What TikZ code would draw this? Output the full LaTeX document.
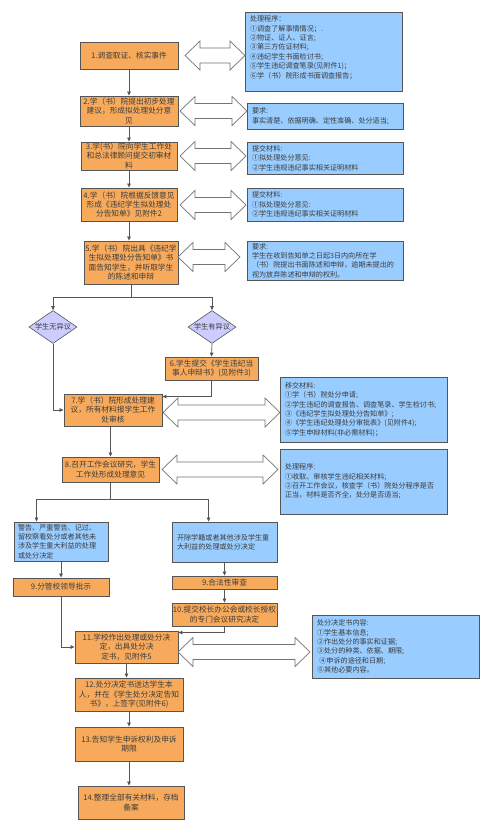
\documentclass[tikz,border=0pt]{standalone}
\usepackage{fontspec}
\setmainfont{Noto Sans CJK SC}
\usetikzlibrary{shapes.geometric,arrows.meta,calc}
\XeTeXlinebreaklocale "zh"
\XeTeXlinebreakskip=0pt plus 1pt
\definecolor{orangeC}{HTML}{F7AA5C}
\definecolor{blueC}{HTML}{99CCFF}
\definecolor{diaC}{HTML}{CCCCFF}
\definecolor{edgeC}{HTML}{555555}
\definecolor{txtC}{HTML}{3C3C3C}
\tikzset{
 obox/.style={draw=edgeC, fill=orangeC, line width=0.9pt, text=txtC, align=center, inner sep=1pt, font=\fontsize{7.7}{9.4}\selectfont},
 bbox/.style={draw=edgeC, fill=blueC, line width=0.9pt, text=txtC, align=left, inner xsep=5pt, inner ysep=1pt, font=\fontsize{7.1}{9.4}\selectfont},
 dia/.style={diamond, draw=edgeC, fill=diaC, line width=0.6pt, aspect=1.45, inner sep=0pt, minimum width=48pt, minimum height=33pt, text=txtC, font=\fontsize{7.2}{9}\selectfont},
 darrowst/.style={draw=black!55, fill=white, line width=0.7pt, line join=miter},
 conn/.style={draw=edgeC, line width=0.7pt, -{Triangle[length=4pt,width=3.5pt]}},
 osz/.style 2 args={minimum width=#1pt, minimum height=#2pt},
 bsz/.style 2 args={text width=#1pt, minimum height=#2pt},
}
% double arrow: #1 left tip x, #2 right tip x, #3 centre y
\newcommand\dblarr[3]{%
 \draw[darrowst] (#1,#3) -- ({#1+15},{#3-14.5}) -- ({#1+15},{#3-7.5}) -- ({#2-15},{#3-7.5}) -- ({#2-15},{#3-14.5}) -- (#2,#3)
   -- ({#2-15},{#3+14.5}) -- ({#2-15},{#3+7.5}) -- ({#1+15},{#3+7.5}) -- ({#1+15},{#3+14.5}) -- cycle;}
\begin{document}
\begin{tikzpicture}[x=1pt,y=-1pt]
\useasboundingbox[fill=white] (0,0) rectangle (492,833);
% main orange boxes
\node[obox,osz={98}{27}] (b1) at (129,55.5) {1.调查取证、核实事件};
\node[obox,osz={98}{30}] (b2) at (129,111) {2.学（书）院提出初步处理\\建议，形成拟处理处分意\\见};
\node[obox,osz={96}{28}] (b3) at (129,156) {3.学(书）院向学生工作处\\和总法律顾问提交初审材\\料};
\node[obox,osz={96}{33}] (b4) at (129,204.5) {4.学（书）院根据反馈意见\\形成《违纪学生拟处理处\\分告知单》见附件2};
\node[obox,osz={94}{43}] (b5) at (131,262.5) {5.学（书）院出具《违纪学\\生拟处理处分告知单》书\\面告知学生，并听取学生\\的陈述和申辩};
\node[dia] (d1) at (53,327) {学生无异议};
\node[dia] (d2) at (212,327) {学生有异议};
\node[obox,osz={93}{23}] (b6) at (211.5,368.5) {6.学生提交《学生违纪当\\事人申辩书》(见附件3)};
\node[obox,osz={98}{32}] (b7) at (113,410) {7.学（书）院形成处理建\\议，所有材料报学生工作\\处审核};
\node[obox,osz={97}{25}] (b8) at (110.5,469.5) {8.召开工作会议研究，学生\\工作处形成处理意见};
\node[bbox,bsz={86}{39},inner xsep=4pt] (bA) at (61,541.5) {警告、严重警告、记过、\\留校察看处分或者其他未\\涉及学生重大利益的处理\\或处分决定};
\node[bbox,bsz={95}{40}] (bB) at (224.5,542) {开除学籍或者其他涉及学生重\\大利益的处理或处分决定};
\node[obox,osz={96}{18}] (b9L) at (61,587) {9.分管校领导批示};
\node[obox,osz={105}{13},inner ysep=0pt] (b9R) at (224.5,582.5) {9.合法性审查};
\node[obox,osz={105}{23},inner xsep=0.5pt] (b10) at (224.5,614.5) {10.提交校长办公会或校长授权\\的专门会议研究决定};
\node[obox,osz={103}{32}] (b11) at (126.5,647) {11.学校作出处理或处分决\\定，出具处分决\\定书，见附件5};
\node[obox,osz={108}{33}] (b12) at (129,694.5) {12.处分决定书送达学生本\\人，并在《学生处分决定告知\\书》，上签字(见附件6)};
\node[obox,osz={108}{34}] (b13) at (129,744) {13.告知学生申诉权利及申诉\\期限};
\node[obox,osz={106}{33}] (b14) at (131,802.5) {14.整理全部有关材料，存档\\备案};
% blue info boxes
\node[bbox,bsz={147}{79}] (c1) at (323.5,51.5) {处理程序：\\①调查了解事情情况；.\\②物证、证人、证言;\\③第三方佐证材料;\\④违纪学生书面检讨书;\\⑤学生违纪调查笔录(见附件1)；\\⑥学（书）院形成书面调查报告；\\\mbox{}};
\node[bbox,bsz={146}{26}] (c2) at (325,116) {要求:\\事实清楚、依据明确、定性准确、处分适当;};
\node[bbox,bsz={146}{32}] (c3) at (325,158) {提交材料:\\①拟处理处分意见:\\②学生违规违纪事实相关证明材料};
\node[bbox,bsz={146}{33}] (c4) at (325,204.5) {提交材料:\\①拟处理处分意见:\\②学生违规违纪事实相关证明材料};
\node[bbox,bsz={146}{39}] (c5) at (325,260.5) {要求:\\学生在收到告知单之日起3日内向所在学\\（书）院提出书面陈述和申辩，逾期未提出的\\视为放弃陈述和申辩的权利。};
\node[bbox,bsz={157}{65}] (c6) at (363.5,409.5) {移交材料:\\①学（书）院处分申请;\\②学生违纪的调查报告、调查笔录、学生检讨书;\\③《违纪学生拟处理处分告知单》;\\④《学生违纪处理处分审批表》(见附件4);\\⑤学生申辩材料(非必需材料)；};
\node[bbox,bsz={157}{65}] (c7) at (363.5,481.5) {处理程序:\\①收取、审核学生违纪相关材料;\\②召开工作会议，核查学（书）院处分程序是否\\正当，材料是否齐全，处分是否适当;};
\node[bbox,bsz={157}{63}] (c8) at (395.5,646.5) {处分决定书内容:\\①学生基本信息;\\②作出处分的事实和证据;\\③处分的种类、依据、期限;\\\ ④申诉的途径和日期;\\⑤其他必要内容。};
% double arrows
\dblarr{185}{245}{55.5}
\dblarr{180}{247}{111}
\dblarr{180}{246}{156}
\dblarr{180}{246}{205}
\dblarr{178}{240}{257}
\dblarr{163}{280}{412.5}
\dblarr{162}{278}{469.5}
\dblarr{178}{310}{652}
% connectors
\draw[conn] (b1.south) -- (b2.north);
\draw[conn] (b2.south) -- (b3.north);
\draw[conn] (b3.south) -- (b4.north);
\draw[conn] (b4.south) -- (b4.south |- b5.north);
\draw[conn] (b5.south) -- ++(0,13) -| (d1.north);
\draw[conn] (b5.south) -- ++(0,13) -| (d2.north);
\draw[conn] (d2.south) -- (b6.north);
\draw[conn] (b6.south) |- ($(b7.north east)+(0,3)$);
\draw[conn] (d1.south) |- (b7.west);
\draw[conn] (b7.south -| b8.north) -- (b8.north);
\coordinate (sA) at ($(bA.north west)+(23,0)$);
\coordinate (sB) at ($(bB.north west)+(37,0)$);
\draw[conn] (b8.south) -- ++(0,17) -| (sA);
\draw[conn] (b8.south) -- ++(0,17) -| (sB);
\draw[conn] (bA.south) -- (b9L.north);
\draw[conn] (bB.south) -- (b9R.north);
\draw[conn] (b9R.south) -- (b10.north);
\draw[conn] (b10.south) |- ($(b11.north east)+(0,2)$);
\draw[conn] (b9L.south) |- (b11.west);
\draw[conn] (b11.south) -- (b11.south |- b12.north);
\draw[conn] (b12.south) -- (b13.north);
\draw[conn] (b13.south) -- (b13.south |- b14.north);
\end{tikzpicture}
\end{document}
